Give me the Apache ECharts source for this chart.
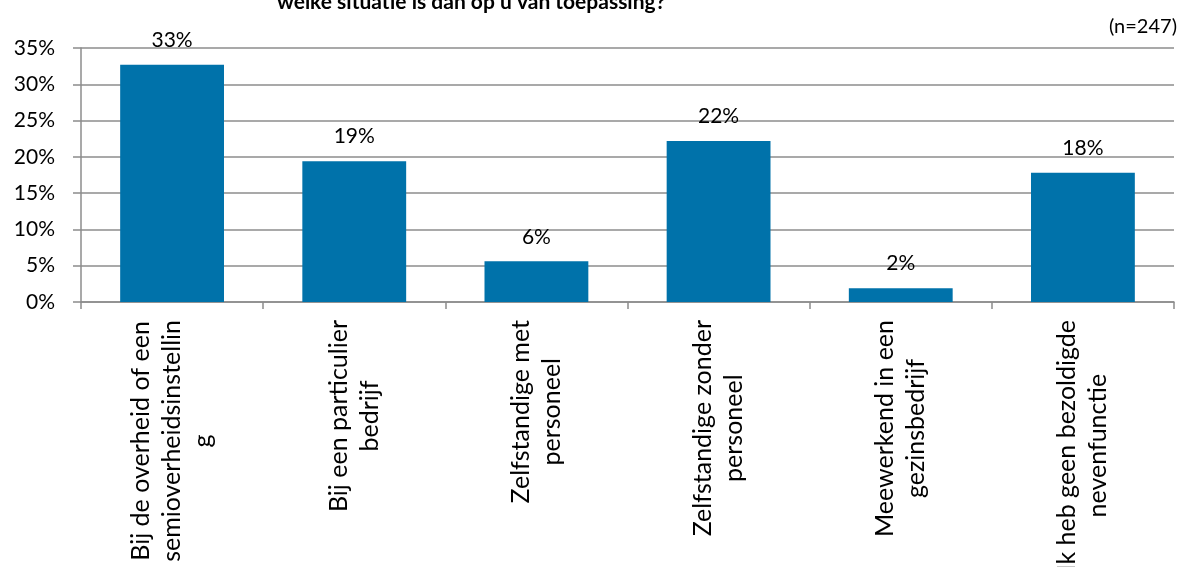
<!DOCTYPE html>
<html>
<head>
<meta charset="utf-8">
<script src="https://cdn.jsdelivr.net/npm/echarts@6/dist/echarts.min.js"></script>
<style>
html,body{margin:0;padding:0;background:#fff;}
#c{width:1184px;height:567px;}
</style>
</head>
<body>
<div id="c"></div>
<script>
const titleText = 'welke situatie is dan op u van toepassing?';
const noteText = '(n=247)';
const categories = [
  'Bij de overheid of een\nsemioverheidsinstellin\ng',
  'Bij een particulier\nbedrijf',
  'Zelfstandige met\npersoneel',
  'Zelfstandige zonder\npersoneel',
  'Meewerkend in een\ngezinsbedrijf',
  'Ik heb geen bezoldigde\nnevenfunctie'
];
const values = [32.7, 19.4, 5.6, 22.2, 1.9, 17.8];
const yTicks = { min: 0, max: 35, interval: 5 };

const FONT = 'Lato, "Open Sans", sans-serif';
const chart = echarts.init(document.getElementById('c'), null, { renderer: 'canvas' });
chart.setOption({
  backgroundColor: '#ffffff',
  animation: false,
  title: [{
    text: titleText,
    left: 272,
    top: -13,
    textStyle: { fontFamily: FONT, fontSize: 21, fontWeight: 'bold', color: '#000' }
  }, {
    text: noteText,
    right: 2,
    top: 12,
    textStyle: { fontFamily: FONT, fontSize: 20, fontWeight: 'normal', color: '#000' }
  }],
  grid: {
    left: 81, right: 10, top: 48, bottom: 265,
    outerBoundsMode: 'none', containLabel: false
  },
  xAxis: {
    type: 'category',
    data: categories,
    axisLine: { show: true, lineStyle: { color: '#8c8c8c', width: 1.5 } },
    axisTick: { show: true, length: 7, alignWithLabel: false, interval: 0, lineStyle: { color: '#8c8c8c', width: 1.5 } },
    axisLabel: {
      interval: 0,
      rotate: 90,
      margin: 18,
      color: '#000',
      fontFamily: FONT,
      fontSize: 25,
      hideOverlap: false,
      formatter: function (v) {
        return v.split('\n').map(function (l) { return '{c|' + l + '}'; }).join('\n');
      },
      rich: { c: { align: 'center', fontFamily: FONT, fontSize: 25, lineHeight: 31, color: '#000' } }
    }
  },
  yAxis: {
    type: 'value',
    min: yTicks.min, max: yTicks.max, interval: yTicks.interval,
    axisLine: { show: true, lineStyle: { color: '#8c8c8c', width: 1.5 } },
    axisTick: { show: true, length: 8, lineStyle: { color: '#8c8c8c', width: 1.5 } },
    splitLine: { show: true, lineStyle: { color: '#8c8c8c', width: 1.5 } },
    axisLabel: {
      formatter: '{value}%',
      margin: 26,
      color: '#000',
      fontFamily: FONT,
      fontSize: 21
    }
  },
  series: [{
    type: 'bar',
    data: values,
    barWidth: '57%',
    itemStyle: { color: '#0072aa' },
    label: {
      show: true,
      position: 'top',
      distance: 14,
      color: '#000',
      fontFamily: FONT,
      fontSize: 21,
      formatter: function (p) { return Math.round(p.value) + '%'; }
    }
  }]
});
</script>
</body>
</html>
